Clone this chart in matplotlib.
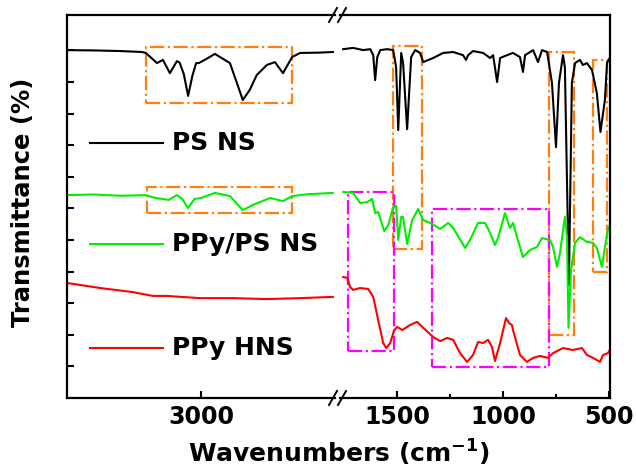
import matplotlib
matplotlib.use('Agg')  # no display

from matplotlib import pyplot as plt
from matplotlib.patches import Rectangle
from matplotlib.lines import Line2D

plt.rcParams['font.family'] = 'DejaVu Sans'
plt.rcParams['font.weight'] = 'bold'
plt.rcParams['mathtext.default'] = 'bf'

# ---- spectra (wavenumber, transmittance a.u.) ----
# high wavenumber part (left panel)
ps_hi_wn = [3250, 3200, 3150, 3110, 3103, 3082, 3071, 3058, 3045, 3040, 3032, 3024,
            3016, 3009, 3004, 2993, 2974, 2946, 2933, 2922, 2909, 2896, 2877, 2862,
            2847, 2830, 2815, 2780, 2754]
ps_hi_t = [11.01, 11.00, 10.98, 10.95, 10.92, 10.60, 10.70, 10.28, 10.66, 10.62, 10.25, 9.56,
           10.20, 10.60, 10.60, 10.70, 10.89, 10.60, 9.97, 9.43, 9.75, 10.22, 10.54, 10.63,
           10.28, 10.79, 10.92, 10.93, 10.95]

ppyps_hi_wn = [3250, 3200, 3150, 3103, 3085, 3060, 3045, 3035, 3024, 3012, 3000, 2974,
               2946, 2933, 2922, 2899, 2871, 2847, 2830, 2800, 2754]
ppyps_hi_t = [6.42, 6.44, 6.40, 6.42, 6.33, 6.27, 6.42, 6.30, 6.01, 6.30, 6.33, 6.49,
              6.39, 6.15, 5.95, 6.14, 6.33, 6.23, 6.39, 6.45, 6.49]

ppy_hi_wn = [3250, 3188, 3127, 3090, 3063, 3002, 2940, 2877, 2815, 2754]
ppy_hi_t = [3.64, 3.48, 3.35, 3.23, 3.23, 3.16, 3.16, 3.13, 3.16, 3.20]

# fingerprint part (right panel)
ps_lo_wn = [1755, 1708, 1660, 1627, 1613, 1604, 1594, 1580, 1547, 1519, 1505, 1495,
            1481, 1472, 1453, 1434, 1415, 1392, 1377, 1330, 1283, 1236, 1189, 1175,
            1165, 1142, 1094, 1061, 1047, 1028, 1014, 981, 953, 920, 906, 896, 858,
            835, 816, 792, 769, 750, 736, 717, 708, 689, 675, 660, 637, 623, 604,
            580, 557, 540, 519, 509, 497]
ps_lo_t = [11.04, 11.08, 11.01, 11.04, 10.85, 10.06, 10.79, 11.01, 11.04, 11.01, 10.47, 8.48,
           10.92, 10.60, 8.51, 10.79, 11.01, 10.92, 10.63, 10.76, 10.92, 10.95, 10.85, 10.70,
           10.85, 10.98, 10.92, 10.76, 10.85, 10.00, 10.76, 10.85, 10.92, 10.79, 10.32, 10.85, 11.01,
           10.63, 11.01, 10.95, 9.97, 7.94, 9.97, 10.85, 10.47, 3.58, 9.97, 10.60, 10.70, 10.54, 10.60,
           10.38, 9.65, 8.42, 9.43, 10.60, 10.75]

ppyps_lo_wn = [1755, 1708, 1675, 1642, 1618, 1604, 1590, 1561, 1542, 1519, 1505, 1495,
               1481, 1472, 1453, 1429, 1401, 1377, 1344, 1297, 1259, 1236, 1179, 1156,
               1118, 1085, 1061, 1038, 1024, 991, 967, 953, 934, 906, 873, 840, 816,
               778, 764, 745, 731, 708, 698, 691, 679, 660, 637, 604, 575, 557, 533,
               519, 505, 497]
ppyps_lo_t = [6.52, 6.49, 6.17, 6.20, 6.30, 5.85, 5.89, 5.28, 5.47, 6.04, 6.08, 5.00,
              5.73, 5.73, 4.87, 5.63, 5.98, 5.63, 5.54, 5.35, 5.54, 5.38, 4.75, 5.00,
              5.54, 5.54, 5.22, 4.84, 5.06, 5.85, 5.38, 5.54, 5.09, 4.46, 4.68, 4.78, 5.06,
              5.00, 4.78, 4.15, 4.59, 5.73, 5.09, 2.22, 4.05, 4.91, 5.09, 4.94, 4.91, 4.75, 4.15,
              4.78, 5.32, 5.45]

ppy_lo_wn = [1755, 1736, 1722, 1708, 1675, 1637, 1613, 1590, 1566, 1552, 1533, 1514,
             1500, 1476, 1439, 1406, 1377, 1330, 1297, 1264, 1236, 1203, 1170, 1142,
             1118, 1094, 1071, 1052, 1038, 1014, 986, 972, 958, 953, 920, 887, 858,
             825, 788, 764, 717, 670, 627, 604, 575, 542, 528, 505, 497]
ppy_lo_t = [3.83, 3.80, 3.51, 3.42, 3.48, 3.45, 3.20, 2.47, 1.74, 1.58, 1.74, 2.15,
            2.25, 2.15, 2.31, 2.41, 2.22, 1.93, 1.80, 1.90, 1.84, 1.42, 1.14, 1.36,
            1.77, 1.74, 1.84, 1.61, 1.17, 1.74, 2.53, 2.37, 2.31, 2.15, 1.36, 1.14, 1.27,
            1.33, 1.27, 1.42, 1.58, 1.52, 1.58, 1.36, 1.27, 1.14, 1.36, 1.42, 1.50]

labels = ['PS NS', 'PPy/PS NS', 'PPy HNS']
colors = ['black', '#00ee00', 'red']

# highlighted regions: (panel, wn from, wn to, T bottom, T top, colour)
boxes = [
    (0, 3103, 2830, 9.34, 11.11, '#ff7f0e'),
    (0, 3100, 2830, 5.85, 6.68, '#ff7f0e'),
    (1, 1519, 1382, 4.72, 11.14, '#ff7f0e'),
    (1, 783, 665, 1.99, 10.95, '#ff7f0e'),
    (1, 575, 509, 3.99, 10.70, '#ff7f0e'),
    (1, 1731, 1514, 1.49, 6.52, '#ff00ff'),
    (1, 1335, 783, 0.98, 5.98, '#ff00ff'),
]

fig = plt.figure(figsize=(6.36, 4.67), dpi=100)
ax1 = fig.add_axes([0.1053, 0.1478, 0.4214, 0.820])
ax2 = fig.add_axes([0.5346, 0.1478, 0.4245, 0.820])

hi = [(ps_hi_wn, ps_hi_t), (ppyps_hi_wn, ppyps_hi_t), (ppy_hi_wn, ppy_hi_t)]
lo = [(ps_lo_wn, ps_lo_t), (ppyps_lo_wn, ppyps_lo_t), (ppy_lo_wn, ppy_lo_t)]
for (x, y), c in zip(hi, colors):
    ax1.plot(x, y, color=c, lw=1.5)
for (x, y), c in zip(lo, colors):
    ax2.plot(x, y, color=c, lw=1.5)

axes = [ax1, ax2]
for panel, w1, w2, t1, t2, c in boxes:
    axes[panel].add_patch(Rectangle((w1, t1), w2 - w1, t2 - t1, fill=False,
                                    edgecolor=c, lw=1.6, ls='-.'))

for ax in axes:
    ax.set_ylim(0, 12.12)
    for s in ax.spines.values():
        s.set_linewidth(1.6)
ax1.set_xlim(3250, 2750)
ax2.set_xlim(1770, 495)
ax1.spines['right'].set_visible(False)
ax2.spines['left'].set_visible(False)

ax1.set_yticks(range(1, 12))
ax1.set_xticks([3000])
ax1.tick_params(axis='y', direction='in', length=5, width=1.5, labelleft=False)
ax1.tick_params(axis='x', direction='in', length=5, width=1.5, labelsize=17, pad=5)
ax2.set_yticks([])
ax2.set_xticks([1500, 1000, 500])
ax2.set_xticks([1250, 750], minor=True)
ax2.tick_params(axis='x', which='major', direction='in', length=5, width=1.5,
                labelsize=17, pad=5)
ax2.tick_params(axis='x', which='minor', direction='in', length=3, width=1.5)

# axis break marks
W, H = 636, 467
for xc in (333, 342):
    for yc in (15, 398):
        fig.add_artist(Line2D([(xc - 4) / W, (xc + 4) / W],
                              [1 - (yc + 7) / H, 1 - (yc - 7) / H],
                              color='black', lw=1.4, transform=fig.transFigure))

# legend drawn by hand next to the curves
leg_y = [0.666, 0.402, 0.131]
for lab, c, yy in zip(labels, colors, leg_y):
    ax1.plot([0.086, 0.358], [yy, yy], color=c, lw=1.5, transform=ax1.transAxes)
    ax1.text(0.392, yy, lab, transform=ax1.transAxes, fontsize=18,
             fontweight='bold', va='center', ha='left')

fig.text(23 / W, 1 - 202 / H, 'Transmittance (%)', rotation=90, fontsize=17.5,
         fontweight='bold', ha='center', va='center')
fig.text(339 / W, 1 - 453 / H, 'Wavenumbers (cm$^{-1}$)', fontsize=18,
         fontweight='bold', ha='center', va='center')

fig.savefig('out.png', dpi=100)
